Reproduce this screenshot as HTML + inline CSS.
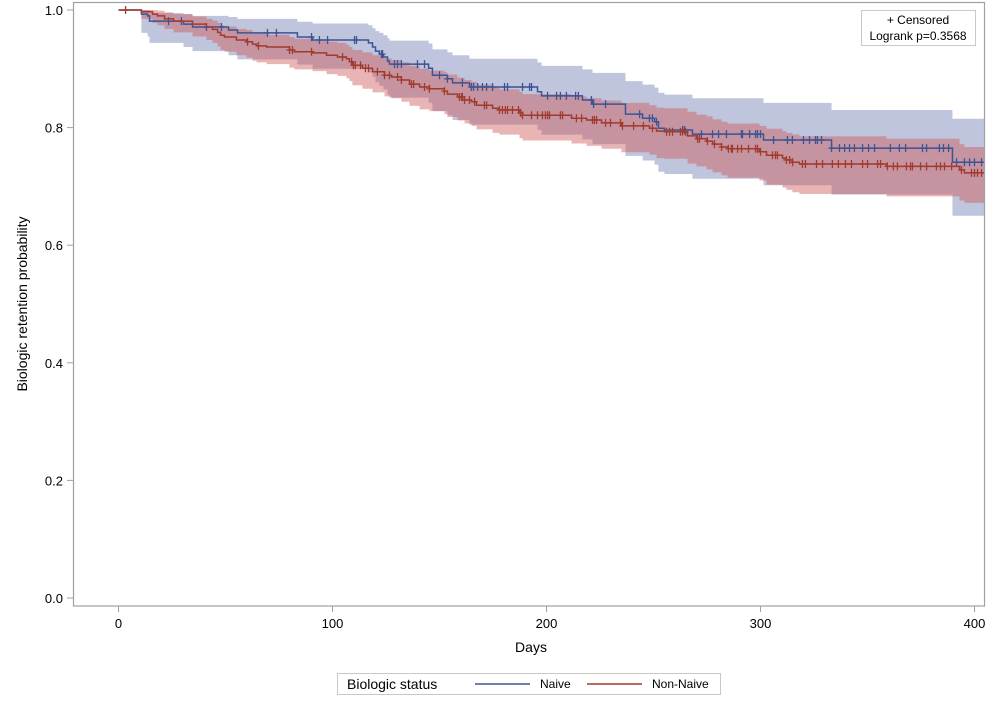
<!DOCTYPE html>
<html><head><meta charset="utf-8"><style>
body{margin:0;background:#fff;font-family:"Liberation Sans",Arial,sans-serif;}
svg text{font-family:"Liberation Sans",Arial,sans-serif;fill:#000;}
</style></head><body>
<svg id="chart" width="995" height="703" xmlns="http://www.w3.org/2000/svg">
<g id="plot"></g>
<rect x="73.5" y="2.5" width="911" height="603.5" fill="none" stroke="#a0a0a0" stroke-width="1.2"/>
<g id="axes"></g>
<text transform="translate(27,304) rotate(-90)" text-anchor="middle" font-size="14">Biologic retention probability</text>
<text x="531" y="652" text-anchor="middle" font-size="14">Days</text>
<g>
<rect x="861.5" y="10.5" width="114" height="35" fill="#fff" stroke="#c8c8c8"/>
<text x="918" y="24" text-anchor="middle" font-size="12">+ Censored</text>
<text x="918" y="40" text-anchor="middle" font-size="12">Logrank p=0.3568</text>
</g>
<g>
<rect x="337.5" y="673.5" width="383" height="21" fill="#fff" stroke="#c8c8c8"/>
<text x="347" y="689" font-size="14">Biologic status</text>
<line x1="475" y1="684" x2="530" y2="684" stroke="#3c5494" stroke-width="1.5"/>
<text x="540" y="688" font-size="12">Naive</text>
<line x1="587" y1="684" x2="642" y2="684" stroke="#a23a2e" stroke-width="1.5"/>
<text x="652" y="688" font-size="12">Non-Naive</text>
</g>
</svg>
<script>
const xTicks=[0,100,200,300,400];
const yTicks=[0.0,0.2,0.4,0.6,0.8,1.0];
const naiveTimes=[0,10.7,13.6,14.5,30.4,34.6,51.4,55.6,83.6,90.7,116.8,118.7,120.1,121.9,123.8,125.7,126.6,144.9,146.7,153.7,156.1,164,195.8,197.7,216.8,221.5,236.9,244.9,250.5,252.3,255.1,268.2,301.4,333.2,389.7];
const naiveSurv=[1,.993,.990,.981,.976,.971,.966,.961,.954,.949,.944,.937,.930,.925,.920,.913,.908,.901,.889,.883,.876,.869,.861,.854,.847,.840,.823,.816,.810,.799,.796,.789,.779,.765,.741];
const naiveLower=[1,.961,.955,.944,.937,.930,.923,.916,.907,.900,.894,.886,.877,.871,.865,.856,.851,.842,.828,.821,.813,.805,.796,.788,.780,.772,.752,.744,.737,.725,.721,.713,.702,.686,.650];
const naiveUpper=[1,1,1,.995,.993,.990,.988,.985,.980,.977,.974,.969,.964,.961,.957,.952,.948,.943,.933,.928,.923,.917,.911,.905,.899,.893,.879,.873,.868,.859,.856,.850,.842,.830,.815];
const naiveCensored=[23.4,29.4,41.1,48.1,69.6,73.8,90.2,93.9,97.7,110.3,111.2,122.9,123.4,129,130.4,132.2,139.7,143,150,153.7,160.7,164.9,165.9,167.8,170.1,172,174.8,180.4,181.8,188.8,192.1,193,200.5,204.7,206.5,209.3,213.6,214.9,221,222,227.6,243.5,248.1,249.5,251.4,263.6,264.5,272.4,277.6,280.4,284.1,291.1,291.6,294.9,297.7,298.6,300,306.1,312.6,314.9,320.1,322.9,325.7,326.6,328.5,333.2,336.9,339.3,341.6,343.9,347.7,350.5,353.3,360.7,364.9,367.8,375.7,377.6,383.6,385.5,387.9,391.6,395.3,397.7,400,403.3];
const nonTimes=[0,10.7,15.9,18.2,21.5,25.7,34.6,41.1,43.9,46.3,47.7,49.5,55.1,59.8,62.6,64.5,69.2,79.9,82.2,90.7,97.2,102.3,106.5,107.9,109.3,114,118.7,124.3,127.6,132.2,136,140.7,145.3,152.3,153.7,158.4,161.7,165,167.3,174.8,178,187.4,188.8,211.7,218.7,225.7,235,248.1,251.4,255.1,265.9,270.1,274.8,277.6,281.8,284.6,299.5,302.8,310.3,312.1,314.9,318.2,358.9,393,395.3];
const nonSurv=[1,.997,.993,.990,.985,.981,.976,.971,.967,.962,.957,.954,.949,.946,.942,.939,.937,.932,.929,.927,.923,.920,.917,.912,.906,.901,.895,.889,.886,.881,.874,.869,.866,.862,.857,.852,.847,.844,.838,.833,.830,.825,.821,.816,.813,.808,.803,.799,.794,.793,.786,.781,.777,.772,.767,.764,.759,.753,.748,.745,.741,.738,.734,.728,.723];
const nonLower=[1,.985,.978,.974,.968,.962,.955,.949,.944,.938,.932,.929,.923,.919,.914,.911,.908,.902,.899,.896,.891,.888,.884,.879,.872,.866,.860,.853,.850,.844,.837,.831,.828,.823,.818,.812,.807,.803,.797,.791,.788,.782,.778,.773,.769,.764,.758,.754,.748,.747,.739,.734,.729,.724,.719,.715,.710,.703,.698,.694,.690,.687,.683,.676,.672];
const nonUpper=[1,1,1,.999,.996,.993,.989,.985,.982,.978,.974,.972,.968,.966,.962,.960,.958,.954,.951,.950,.946,.944,.941,.937,.932,.928,.923,.918,.915,.911,.905,.900,.897,.894,.890,.885,.881,.878,.873,.868,.865,.861,.857,.853,.850,.846,.842,.838,.834,.833,.827,.822,.819,.814,.810,.807,.803,.798,.794,.791,.788,.785,.781,.772,.767];
const nonCensored=[3.3,60.3,65.4,79.9,81.3,90.2,104.7,108.9,109.8,110.7,113.1,115.4,116.8,121,124.3,126.6,130.4,132.2,136.9,137.9,143,145.3,152.3,159.3,160.3,160.7,161.7,164,166.4,171,172,178,179.4,180.8,181.8,184.1,186.9,187.9,188.8,193,195.8,198.1,199.5,200.5,201.4,206.5,207.5,214,216.4,221.5,222.4,223.4,227.6,229.9,234.6,235.5,240.7,245.3,249.5,256.1,257.5,258.9,262.6,263.6,265,270.6,271.5,275.2,278.5,281.8,285,286.4,286.9,289.3,291.1,294.4,297.7,298.6,300,305.6,307,307.9,312.1,313.6,315,319.6,321,326.2,329,333.6,336.4,339.7,342.5,347.7,350,354.7,356.1,359.3,362.1,364,368.2,370.1,371,374.8,377.6,382.2,384.1,386,389.3,393.9,398.6,400,401.4,403.3];

const X0=118.5, XS=2.14, XEND=404.7;
const xs=d=>X0+d*XS;
const ys=v=>598-v*588;
const NS='http://www.w3.org/2000/svg';
const plot=document.getElementById('plot');
const axes=document.getElementById('axes');
function mk(tag,attrs,parent){const e=document.createElementNS(NS,tag);for(const k in attrs)e.setAttribute(k,attrs[k]);parent.appendChild(e);return e;}
function stepVal(times,vals,t){let v=vals[0];for(let i=0;i<times.length;i++){if(times[i]<=t)v=vals[i];}return v;}
function bandPath(times,lo,hi){
  let top='',bot=[];
  for(let i=0;i<times.length;i++){
    const x1=xs(times[i]),x2=xs(i+1<times.length?times[i+1]:XEND);
    top+=(i?'L':'M')+x1+','+ys(hi[i])+'L'+x2+','+ys(hi[i]);
    bot.unshift('L'+x2+','+ys(lo[i])+'L'+x1+','+ys(lo[i]));
  }
  return top+bot.join('')+'Z';
}
function stepPath(times,s){
  let d='M'+xs(times[0])+','+ys(s[0]);
  for(let i=1;i<times.length;i++){d+='H'+xs(times[i])+'V'+ys(s[i]);}
  return d+'H'+xs(XEND);
}
const nb=mk('path',{d:bandPath(naiveTimes,naiveLower,naiveUpper),fill:'#bfc5dc'},plot);


const rb=mk('path',{d:bandPath(nonTimes,nonLower,nonUpper),fill:'rgb(205,87,85)','fill-opacity':0.44},plot);


function series(times,s,cens,color,name){
  const g=mk('g',{},plot);
  
  
  const p=mk('path',{d:stepPath(times,s),fill:'none',stroke:color,'stroke-width':1.5},g);
  
  
  cens.forEach(t=>{
    const x=xs(t),y=ys(stepVal(times,s,t));
    const c=mk('path',{d:'M'+x+','+(y-4)+'V'+(y+4)+'M'+(x-3)+','+y+'H'+(x+3),stroke:color,'stroke-width':1.3},g);
    
    
  });
}
series(naiveTimes,naiveSurv,naiveCensored,'#3c5494','naive');
series(nonTimes,nonSurv,nonCensored,'#a23a2e','non-naive');
xTicks.forEach(t=>{
  const x=xs(t);
  const l=mk('line',{x1:x,x2:x,y1:606,y2:612,stroke:'#a0a0a0'},axes);
  
  
  const tx=mk('text',{x:x,y:628,'text-anchor':'middle','font-size':13},axes);
  tx.textContent=String(t);
  
  
});
yTicks.forEach(v=>{
  const y=ys(v);
  const l=mk('line',{x1:67,x2:73,y1:y,y2:y,stroke:'#a0a0a0'},axes);
  
  
  const tx=mk('text',{x:63,y:y+5,'text-anchor':'end','font-size':13},axes);
  tx.textContent=v.toFixed(1);
  
  
});
</script>
</body></html>
